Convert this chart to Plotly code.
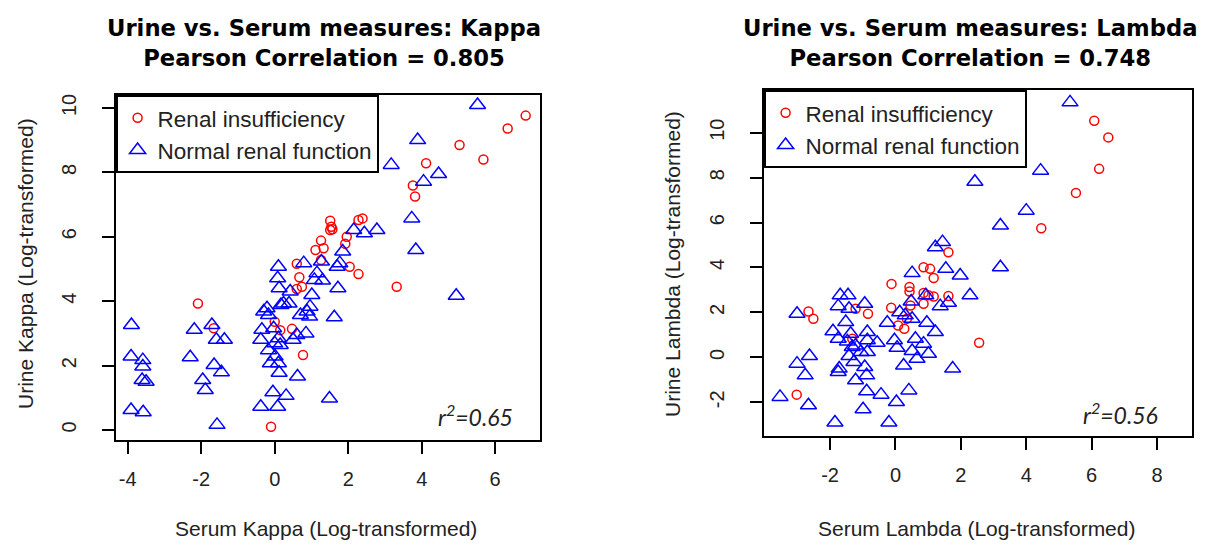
import plotly.graph_objects as go

# ---------------- Data ----------------
# Kappa: renal insufficiency
kappa_renal_serum = [6.83, 6.34, 5.03, 5.68, 4.12, 3.76, 3.82, 1.51, 2.28, 2.39, 1.54, 1.51, 1.57,
                     1.96, 1.92, 1.26, 1.33, 1.11, 1.26, 2.04, 0.60, 2.28, 0.67, 0.74, 0.60, 3.32,
                     -2.09, -1.66, 0.00, 0.47, 0.77, -0.10, 0.15]
kappa_renal_urine = [9.76, 9.36, 8.85, 8.40, 8.28, 7.59, 7.25, 6.50, 6.52, 6.57, 6.31, 6.21, 6.23,
                     6.00, 5.78, 5.88, 5.64, 5.59, 5.28, 5.07, 5.16, 4.84, 4.74, 4.45, 4.38, 4.45,
                     3.93, 3.16, 3.36, 3.14, 2.33, 0.10, 3.10]
# Kappa: normal renal function
kappa_normal_serum = [5.52, 3.89, 3.17, 4.46, 4.05, 3.73, 3.84, 4.94, 2.78, 2.44, 2.15, 1.85, 1.77,
                      1.70, 1.72, 1.62, 1.49, 0.79, 1.27, 1.15, 1.30, 1.08, 1.01, 0.96, 0.88, 0.70,
                      0.95, 0.42, 0.39, 0.85, 0.50, 0.62, 0.10, 0.08, 0.12, 0.24, 0.17, -0.21,
                      -0.30, -0.17, -0.35, -0.38, -0.03, 0.10, 0.00, 0.15, -0.17, 0.01, -0.12,
                      0.10, 0.12, -0.05, 0.31, -0.38, 0.08, -1.57, -3.90, -3.91, -3.59, -3.59,
                      -3.61, -3.50, -3.91, -3.58, -2.19, -1.71, -1.59, -1.37, -2.30, -1.65, -1.45,
                      -1.96, -1.89, 0.60]
kappa_normal_urine = [10.09, 9.00, 8.23, 7.95, 7.71, 6.57, 5.59, 4.17, 6.21, 6.11, 6.21, 5.54, 5.18,
                      5.07, 4.40, 3.50, 0.98, 5.18, 5.23, 4.87, 4.64, 4.66, 4.19, 3.83, 3.68, 3.57,
                      3.52, 4.30, 3.93, 3.00, 2.80, 1.66, 5.07, 4.71, 4.40, 3.93, 3.88, 3.78,
                      3.68, 3.57, 3.11, 2.80, 3.16, 2.85, 2.69, 2.64, 2.48, 2.28, 2.07,
                      2.07, 1.78, 1.17, 1.06, 0.72, 0.72, 0.16, 3.26, 2.28, 2.17, 1.97,
                      1.55, 1.50, 0.62, 0.55, 3.11, 3.26, 2.80, 2.80, 2.26, 2.02, 1.79,
                      1.55, 1.24, 2.95]

# Lambda: renal insufficiency
lambda_renal_serum = [6.08, 6.51, 6.23, 5.52, 4.46, 1.62, 0.86, 1.06, 1.17, -0.12, 0.43, 0.43, 0.86,
                      1.01, 1.17, 1.62, 0.86, -0.13, 0.46, 0.35, 0.08, 0.27, -1.22, -0.84, -2.66,
                      -2.51, -3.02, 2.56, -1.32]
lambda_renal_urine = [10.53, 9.79, 8.39, 7.32, 5.75, 4.68, 4.01, 3.94, 3.53, 3.27, 3.13, 2.93, 2.87,
                      2.76, 2.71, 2.73, 2.39, 2.21, 2.31, 1.72, 1.42, 1.27, 2.16, 1.94, 2.04,
                      1.72, -1.66, 0.65, 0.83]
# Lambda: normal renal function
lambda_normal_serum = [5.34, 4.44, 2.43, 4.00, 3.21, 3.21, 1.44, 1.22, 0.51, 1.54, 1.98, 2.28, 1.62,
                       1.37, 0.93, 0.48, 0.13, 0.30, 0.51, -0.25, 0.96, 1.22, -0.03, 0.61, 0.86,
                       0.05, 0.51, 1.01, 0.66, 0.25, 1.75, 0.41, 0.03, -0.20, -0.44, -0.88, -0.99,
                       -1.85, -2.66, -3.53, -3.01, -2.63, -2.76, -3.01, -1.69, -1.45, -1.75, -1.42,
                       -0.94, -1.52, -1.91, -1.75, -1.37, -1.47, -1.22, -0.86, -0.56, -0.86, -1.06,
                       -1.42, -1.27, -1.72, -1.75, -0.94, -0.88, -1.22, -0.86, -1.32]
lambda_normal_urine = [11.35, 8.31, 7.82, 6.53, 5.87, 4.01, 5.13, 4.90, 3.75, 3.94, 3.64, 2.76, 2.43,
                       2.28, 2.76, 2.49, 2.01, 1.87, 1.72, 1.54, 1.54, 1.13, 0.76, 0.83, 0.61,
                       0.43, 0.28, 0.16, -0.06, -0.36, -0.50, -1.47, -1.99, -2.90, -1.66, -1.51, -2.31,
                       -2.90, -2.13, -1.76, -0.28, 0.06, -0.80, 1.94, 2.76, 2.76, 2.28, 2.16,
                       2.39, 1.57, 1.16, 0.83, 1.05, 0.71, 0.53, 1.13, 0.65, 0.24, 0.24,
                       0.06, -0.21, -0.50, -0.65, -0.43, -0.80, -1.02, 0.76, 0.46]

# tick values / labels
kappa_xticks = [-4, -2, 0, 2, 4, 6]
kappa_yticks = [0, 2, 4, 6, 8, 10]
lambda_xticks = [-2, 0, 2, 4, 6, 8]
lambda_yticks = [-2, 0, 2, 4, 6, 8, 10]

titles = ["<b>Urine vs. Serum measures: Kappa<br>Pearson Correlation = 0.805</b>",
          "<b>Urine vs. Serum measures: Lambda<br>Pearson Correlation = 0.748</b>"]
x_titles = ["Serum Kappa (Log-transformed)", "Serum Lambda (Log-transformed)"]
y_titles = ["Urine Kappa (Log-transformed)", "Urine Lambda (Log-transformed)"]
r2_labels = ["<i>r<sup>2</sup>=0.65</i>", "<i>r<sup>2</sup>=0.56</i>"]
group_names = ["Renal insufficiency", "Normal renal function"]

W, H = 1208, 546
RED, BLUE = "#FF0000", "#0000FF"
FONT = "Liberation Sans, Arial, sans-serif"
TXT = "#222222"

fig = go.Figure()

circle = dict(symbol="circle-open", size=9, color=RED, line=dict(width=1.5, color=RED))
tri = dict(symbol="triangle-up-open", size=14, color=BLUE, line=dict(width=1.5, color=BLUE))

fig.add_trace(go.Scatter(x=kappa_renal_serum, y=kappa_renal_urine, mode="markers",
                         name=group_names[0], marker=circle, xaxis="x", yaxis="y", legend="legend"))
fig.add_trace(go.Scatter(x=kappa_normal_serum, y=kappa_normal_urine, mode="markers",
                         name=group_names[1], marker=tri, xaxis="x", yaxis="y", legend="legend"))
fig.add_trace(go.Scatter(x=lambda_renal_serum, y=lambda_renal_urine, mode="markers",
                         name=group_names[0], marker=circle, xaxis="x2", yaxis="y2", legend="legend2"))
fig.add_trace(go.Scatter(x=lambda_normal_serum, y=lambda_normal_urine, mode="markers",
                         name=group_names[1], marker=tri, xaxis="x2", yaxis="y2", legend="legend2"))

# plot boxes in pixels (left, right, top, bottom)
boxes = [(116, 540, 95, 440), (764, 1192, 90, 436)]
xr = [[-4.32, 7.22], [-4.02, 9.07]]
yr = [[-0.31, 10.40], [-3.50, 11.90]]
xt = [kappa_xticks, lambda_xticks]
yt = [kappa_yticks, lambda_yticks]
title_x = [324, 970]
xtitle_x = [326, 976]
ytitle_x = [25, 672]
r2_pos = [(475, 415), (1120, 413)]

axis_common = dict(showgrid=False, zeroline=False, showline=True, mirror=True,
                   linecolor="black", linewidth=1.6, ticks="outside", ticklen=12,
                   tickwidth=1.5, tickcolor="black", automargin=False,
                   tickfont=dict(family=FONT, size=20, color=TXT))

for i, (l, r, t, b) in enumerate(boxes):
    sx = "" if i == 0 else "2"
    fig.update_layout(**{
        "xaxis" + sx: dict(axis_common, domain=[l / W, r / W], range=xr[i],
                           tickmode="array", tickvals=xt[i],
                           ticktext=[str(v) for v in xt[i]], anchor="y" + sx,
                           ticklabelstandoff=8),
        "yaxis" + sx: dict(axis_common, domain=[1 - b / H, 1 - t / H], range=yr[i],
                           tickmode="array", tickvals=yt[i],
                           ticktext=[str(v) for v in yt[i]], tickangle=-90, anchor="x" + sx,
                           ticklabelstandoff=18),
    })
    # main title
    fig.add_annotation(text=titles[i], xref="paper", yref="paper",
                       x=title_x[i] / W, y=1 - 43 / H, xanchor="center", yanchor="middle",
                       showarrow=False, font=dict(family="DejaVu Sans", size=22.7, color="black"))
    # x-axis title
    fig.add_annotation(text=x_titles[i], xref="paper", yref="paper",
                       x=xtitle_x[i] / W, y=1 - 528 / H, xanchor="center", yanchor="middle",
                       showarrow=False, font=dict(family=FONT, size=21, color=TXT))
    # y-axis title
    fig.add_annotation(text=y_titles[i], xref="paper", yref="paper", textangle=-90,
                       x=ytitle_x[i] / W, y=1 - 264 / H, xanchor="center", yanchor="middle",
                       showarrow=False, font=dict(family=FONT, size=21, color=TXT))
    # r^2 label
    fig.add_annotation(text=r2_labels[i], xref="paper", yref="paper",
                       x=r2_pos[i][0] / W, y=1 - r2_pos[i][1] / H,
                       xanchor="center", yanchor="middle", showarrow=False,
                       font=dict(family="Lato, Open Sans, sans-serif", size=23, color=TXT))

legend_common = dict(bgcolor="white", bordercolor="black", borderwidth=1.6,
                     font=dict(family=FONT, size=22.5, color=TXT),
                     xanchor="left", yanchor="top", itemclick=False, itemdoubleclick=False,
                     tracegroupgap=0)
fig.update_layout(
    width=W, height=H,
    margin=dict(l=0, r=0, t=0, b=0, autoexpand=False),
    paper_bgcolor="white", plot_bgcolor="white",
    showlegend=True,
    legend=dict(legend_common, x=116 / W, y=1 - 95 / H),
    legend2=dict(legend_common, x=764 / W, y=1 - 90 / H),
)

fig.write_html("out.html", config={"displayModeBar": False},
               post_script="document.body.style.margin='0px';document.body.style.padding='0px';")
